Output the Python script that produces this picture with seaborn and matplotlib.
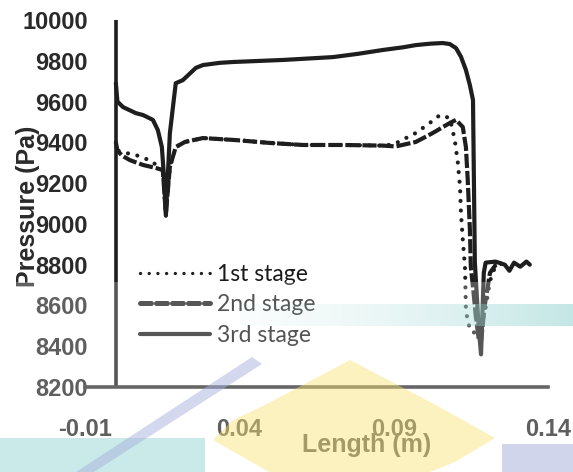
import numpy as np
import pandas as pd
import matplotlib
matplotlib.use("Agg")
import matplotlib.pyplot as plt
from matplotlib.lines import Line2D
from matplotlib.patches import Polygon, Rectangle
import seaborn as sns

# ---- pressure profiles along the channel ----
x_stage1 = [0.0, 0.0005, 0.0032, 0.0065, 0.0088, 0.0110, 0.0130, 0.0152, 0.0162, 0.0175,
            0.0194, 0.0224, 0.0282, 0.0389, 0.0499, 0.0606, 0.0735, 0.0865, 0.0900, 0.0972,
            0.1017, 0.1050, 0.1082, 0.1098, 0.1108, 0.1115, 0.1118, 0.1124, 0.1131, 0.1134,
            0.1140, 0.1157, 0.1175, 0.1195, 0.1212, 0.1231]
p_stage1 = [9400, 9360, 9348, 9338, 9323, 9313, 9290, 9264, 9050, 9280,
            9377, 9402, 9421, 9411, 9397, 9387, 9387, 9384, 9390, 9446,
            9495, 9534, 9519, 9411, 9299, 9181, 9053, 8921, 8789, 8592,
            8514, 8465, 8480, 8560, 8720, 8800]

x_stage2 = [0.0, 0.0005, 0.0020, 0.0045, 0.0088, 0.0130, 0.0152, 0.0162, 0.0175, 0.0194,
            0.0224, 0.0282, 0.0389, 0.0499, 0.0606, 0.0735, 0.0865, 0.0907, 0.0972, 0.1027,
            0.1082, 0.1102, 0.1124, 0.1134, 0.1140, 0.1147, 0.1150, 0.1157, 0.1166, 0.1175,
            0.1183, 0.1195, 0.1212, 0.1231, 0.1250]
p_stage2 = [9400, 9360, 9335, 9313, 9289, 9274, 9264, 9050, 9280, 9377,
            9402, 9421, 9411, 9397, 9387, 9387, 9384, 9380, 9402, 9446,
            9495, 9510, 9475, 9377, 9215, 8970, 8789, 8690, 8550, 8440,
            8420, 8600, 8760, 8800, 8805]

x_stage3 = [0.0, 0.0005, 0.0023, 0.0065, 0.0088, 0.0120, 0.0136, 0.0149, 0.0155, 0.0162,
            0.0175, 0.0194, 0.0217, 0.0259, 0.0282, 0.0337, 0.0379, 0.0541, 0.0703, 0.0784,
            0.0865, 0.0930, 0.0972, 0.1020, 0.1059, 0.1082, 0.1102, 0.1118, 0.1134, 0.1147,
            0.1157, 0.1163, 0.1175, 0.1183, 0.1192, 0.1198, 0.1230, 0.1260, 0.1275, 0.1290,
            0.1310, 0.1330, 0.1341]
p_stage3 = [9690, 9600, 9573, 9543, 9534, 9510, 9460, 9377, 9250, 9040,
            9445, 9690, 9705, 9765, 9779, 9790, 9794, 9804, 9818, 9834,
            9853, 9866, 9877, 9884, 9887, 9882, 9862, 9820, 9755, 9680,
            9607, 8813, 8500, 8360, 8760, 8810, 8815, 8800, 8770, 8810,
            8790, 8815, 8800]

stage_labels = ["1st stage", "2nd stage", "3rd stage"]
x_ticks = [-0.01, 0.04, 0.09, 0.14]
x_ticklabels = ["-0.01", "0.04", "0.09", "0.14"]
y_ticks = list(range(8200, 10001, 200))

df = pd.concat([
    pd.DataFrame({"Length": x_stage1, "Pressure": p_stage1, "stage": stage_labels[0]}),
    pd.DataFrame({"Length": x_stage2, "Pressure": p_stage2, "stage": stage_labels[1]}),
    pd.DataFrame({"Length": x_stage3, "Pressure": p_stage3, "stage": stage_labels[2]}),
], ignore_index=True)

sns.set_theme(style="white")
plt.rcParams["font.family"] = ["Liberation Sans", "DejaVu Sans"]

W, H = 573, 472
fig = plt.figure(figsize=(W / 100, H / 100), dpi=100)
ax = fig.add_axes([85 / W, 1 - 387 / H, 463 / W, 367 / H])

ink = "#1e1e1e"
styles = {
    "1st stage": dict(ls=(0, (0.01, 2.3)), cap="round"),
    "2nd stage": dict(ls=(0, (3.4, 0.7)), cap="butt"),
    "3rd stage": dict(ls="-", cap="round"),
}
for name in stage_labels:
    sub = df[df["stage"] == name]
    sns.lineplot(data=sub, x="Length", y="Pressure", ax=ax, color=ink,
                 linewidth=3.0, estimator=None, sort=False, legend=False)
    line = ax.lines[-1]
    line.set_linestyle(styles[name]["ls"])
    line.set_dash_capstyle(styles[name]["cap"])
    line.set_solid_capstyle("round")
    line.set_solid_joinstyle("round")

# vertical axis line drawn at x = 0
ax.axvline(0, color=ink, lw=2.6, zorder=1)

ax.set_xlim(-0.01, 0.14)
ax.set_ylim(8200, 10000)
ax.set_xticks(x_ticks)
ax.set_xticklabels(x_ticklabels)
ax.set_yticks(y_ticks)
ax.tick_params(axis="both", length=0)
ax.tick_params(axis="y", pad=-2, labelsize=17, labelcolor="#2a2a2a")
ax.tick_params(axis="x", pad=22, labelsize=17, labelcolor="#2a2a2a")
for lab in ax.get_xticklabels() + ax.get_yticklabels():
    lab.set_fontweight("bold")

for s in ("top", "right", "left"):
    ax.spines[s].set_visible(False)
ax.spines["bottom"].set_color("#333333")
ax.spines["bottom"].set_linewidth(2.6)
ax.patch.set_alpha(0)

ax.set_xlabel("Length (m)", fontsize=18, fontweight="bold", color="#2a2a2a")
ax.xaxis.set_label_coords((367 - 85) / 463, (387 - 433) / 367)
ax.xaxis.label.set_va("top")
ax.set_ylabel("Pressure (Pa)", fontsize=18, fontweight="bold", color="#2a2a2a")
ax.yaxis.set_label_coords((40 - 85) / 463, (387 - 206) / 367)

handles = [
    Line2D([], [], color=ink, lw=2.4, ls=(0, (0.01, 2.6)), dash_capstyle="round"),
    Line2D([], [], color=ink, lw=3.6, ls=(0, (2.2, 1.0)), dash_capstyle="round"),
    Line2D([], [], color=ink, lw=3.0, ls="-", solid_capstyle="round"),
]
leg = ax.legend(handles, stage_labels, loc="upper left",
                bbox_to_anchor=((140 - 85) / 463, (387 - 264) / 367),
                frameon=False, borderpad=0, borderaxespad=0,
                handlelength=3.05, handletextpad=0.3, labelspacing=0.41,
                prop={"family": "Lato", "size": 16.5})
for t in leg.get_texts():
    t.set_color("#1a1a1a")

# ---- scanned-page overlay: faded lower band and coloured stamp shapes ----
ov = fig.add_axes([0, 0, 1, 1], zorder=20)
ov.set_xlim(0, W)
ov.set_ylim(H, 0)
ov.axis("off")
ov.patch.set_alpha(0)

ov.add_patch(Rectangle((0, 282), W, H - 282, color="white", alpha=0.25, lw=0))

# teal band across the lower curves
band = np.linspace(0, 1, 300)[None, :] ** 1.5
teal = np.zeros((1, 300, 4))
teal[..., 0], teal[..., 1], teal[..., 2] = 0.45, 0.78, 0.76
teal[..., 3] = 0.06 + 0.5 * band
ov.imshow(teal, extent=(240, W, 326, 304), aspect="auto", interpolation="bilinear")

ov.add_patch(Polygon([(350, 360), (436, 405), (495, 438), (455, 462), (430, 472),
                      (269, 472), (213, 440), (233, 420), (265, 405)], closed=True,
                     color="#f8e475", alpha=0.45, lw=0))
ov.add_patch(Rectangle((0, 438), 205, 34, color="#a6dcd9", alpha=0.6, lw=0))
ov.add_patch(Rectangle((502, 444), 71, 28, color="#b9bfe3", alpha=0.65, lw=0))
ov.add_patch(Polygon([(76, 472), (94, 472), (262, 364), (252, 357)], closed=True,
                     color="#aab2de", alpha=0.5, lw=0))

fig.savefig("out.png", dpi=100)
